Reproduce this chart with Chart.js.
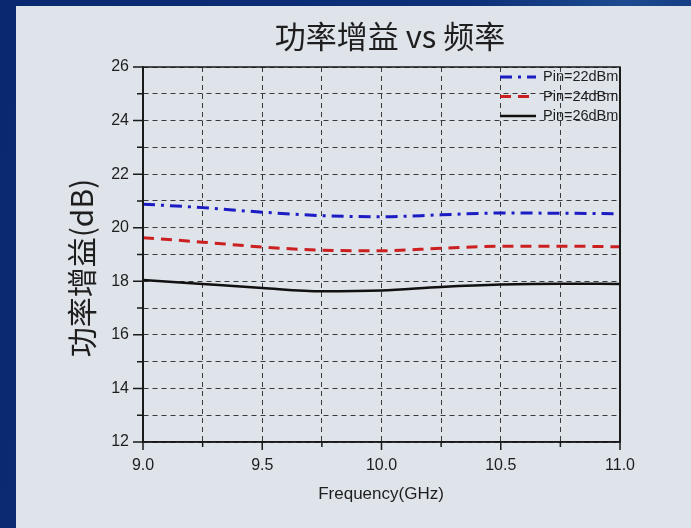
<!DOCTYPE html>
<html>
<head>
<meta charset="utf-8">
<script src="https://cdn.jsdelivr.net/npm/chart.js@4.4.1/dist/chart.umd.min.js"></script>
<style>
  html, body { margin: 0; padding: 0; }
  body {
    width: 691px; height: 528px; overflow: hidden; position: relative;
    background: linear-gradient(100deg, #0a2870 0%, #0d3078 60%, #1d4a90 80%, #0c2c72 100%);
  }
  #panel {
    position: absolute; left: 16px; top: 6px; width: 675px; height: 522px;
    background: #dfe3ea;
  }
  #c { position: absolute; left: 0; top: 0; }
</style>
</head>
<body>
<div id="panel"></div>
<canvas id="c" width="691" height="528"></canvas>
<script>
// data
var freqs = [9.0, 9.25, 9.5, 9.75, 10.0, 10.25, 10.5, 10.75, 11.0];
var gain22 = [20.88, 20.75, 20.58, 20.45, 20.41, 20.48, 20.55, 20.54, 20.52];
var gain24 = [19.63, 19.46, 19.28, 19.16, 19.14, 19.23, 19.31, 19.31, 19.29];
var gain26 = [18.05, 17.90, 17.75, 17.63, 17.66, 17.79, 17.88, 17.91, 17.90];
var seriesLabels = ['Pin=22dBm', 'Pin=24dBm', 'Pin=26dBm'];
var xMajorTicks = [9.0, 9.5, 10.0, 10.5, 11.0];
var yMajorTicks = [12, 14, 16, 18, 20, 22, 24, 26];

var titleText = '功率增益 vs 频率';
var yTitleText = '功率增益(dB)';
var xTitleText = 'Frequency(GHz)';

function pts(vals) {
    return freqs.map(function (f, i) { return { x: f, y: vals[i] }; });
}

// titles, frame, tick marks
var decorPlugin = {
    id: 'decor',
    afterDraw: function (chart) {
        var ctx = chart.ctx;
        var a = chart.chartArea;
        var xs = chart.scales.x, ys = chart.scales.y;
        ctx.save();
        // frame
        ctx.strokeStyle = '#1a1a1a';
        ctx.lineWidth = 1.5;
        ctx.setLineDash([]);
        ctx.strokeRect(a.left, a.top, a.right - a.left, a.bottom - a.top);
        ctx.lineWidth = 2;
        ctx.beginPath();
        ctx.moveTo(a.right, a.top); ctx.lineTo(a.right, a.bottom);
        ctx.moveTo(a.left, a.top); ctx.lineTo(a.left, a.bottom);
        ctx.stroke();
        // tick marks
        ctx.lineWidth = 1.5;
        ctx.beginPath();
        ys.ticks.forEach(function (t) {
            var p = ys.getPixelForValue(t.value);
            var len = yMajorTicks.indexOf(t.value) >= 0 ? 10 : 6;
            ctx.moveTo(a.left - len, p); ctx.lineTo(a.left, p);
        });
        xs.ticks.forEach(function (t) {
            var p = xs.getPixelForValue(t.value);
            var len = xMajorTicks.indexOf(t.value) >= 0 ? 8 : 5;
            ctx.moveTo(p, a.bottom); ctx.lineTo(p, a.bottom + len);
        });
        ctx.stroke();
        // titles
        ctx.fillStyle = '#1e1e1e';
        ctx.textAlign = 'center';
        ctx.textBaseline = 'middle';
        ctx.font = '31px "Noto Sans CJK SC"';
        ctx.fillText(titleText, 390, 36);
        ctx.font = '17px "Liberation Sans"';
        ctx.fillText(xTitleText, 381, 494);
        ctx.translate(82, 268);
        ctx.rotate(-Math.PI / 2);
        ctx.font = '30px "Noto Sans CJK SC"';
        ctx.fillText(yTitleText, 0, 0);
        ctx.restore();

        // legend
        ctx.save();
        ctx.font = '14.5px "Liberation Sans"';
        ctx.textBaseline = 'middle';
        ctx.textAlign = 'left';
        chart.data.datasets.forEach(function (ds, i) {
            var y = a.top + 10 + i * 19.5;
            var x0 = a.right - 120;
            ctx.strokeStyle = ds.borderColor;
            ctx.lineWidth = ds.borderWidth;
            ctx.setLineDash(ds.borderDash || []);
            ctx.beginPath();
            ctx.moveTo(x0, y); ctx.lineTo(x0 + 36, y);
            ctx.stroke();
            ctx.setLineDash([]);
            ctx.fillStyle = '#1e1e1e';
            ctx.fillText(ds.label, x0 + 43, y);
        });
        ctx.restore();
    }
};

var chart = new Chart(document.getElementById('c').getContext('2d'), {
    type: 'line',
    data: {
        datasets: [{
            label: seriesLabels[0],
            data: pts(gain22),
            borderColor: '#1c1cc4',
            borderWidth: 3,
            borderDash: [12, 6, 3, 6],
            pointRadius: 0,
            tension: 0.4,
            cubicInterpolationMode: 'monotone'
        }, {
            label: seriesLabels[1],
            data: pts(gain24),
            borderColor: '#cc1f1f',
            borderWidth: 3,
            borderDash: [11, 7],
            pointRadius: 0,
            tension: 0.4,
            cubicInterpolationMode: 'monotone'
        }, {
            label: seriesLabels[2],
            data: pts(gain26),
            borderColor: '#111111',
            borderWidth: 2.5,
            pointRadius: 0,
            tension: 0.4,
            cubicInterpolationMode: 'monotone'
        }]
    },
    options: {
        responsive: false,
        animation: false,
        layout: { padding: { left: 0, right: 71, top: 67, bottom: 0 } },
        plugins: {
            legend: { display: false },
            title: { display: false },
            tooltip: { enabled: false }
        },
        scales: {
            x: {
                type: 'linear',
                min: 9, max: 11,
                afterFit: function (s) { s.height = 86; },
                grid: { color: '#3a3a3a', lineWidth: 1, drawTicks: false },
                border: { display: true, color: '#1a1a1a', width: 1.5, dash: [5, 4] },
                ticks: {
                    stepSize: 0.25,
                    autoSkip: false,
                    maxRotation: 0,
                    padding: 14,
                    color: '#1e1e1e',
                    font: { family: 'Liberation Sans', size: 16 },
                    callback: function (v) { return xMajorTicks.indexOf(v) >= 0 ? v.toFixed(1) : ''; }
                }
            },
            y: {
                min: 12, max: 26,
                afterFit: function (s) { s.width = 143; },
                grid: { color: '#3a3a3a', lineWidth: 1, drawTicks: false },
                border: { display: true, color: '#1a1a1a', width: 1.5, dash: [5, 4] },
                ticks: {
                    stepSize: 1,
                    autoSkip: false,
                    padding: 14,
                    color: '#1e1e1e',
                    font: { family: 'Liberation Sans', size: 16 },
                    callback: function (v) { return yMajorTicks.indexOf(v) >= 0 ? String(v) : ''; }
                }
            }
        }
    },
    plugins: [decorPlugin]
});
</script>
</body>
</html>
